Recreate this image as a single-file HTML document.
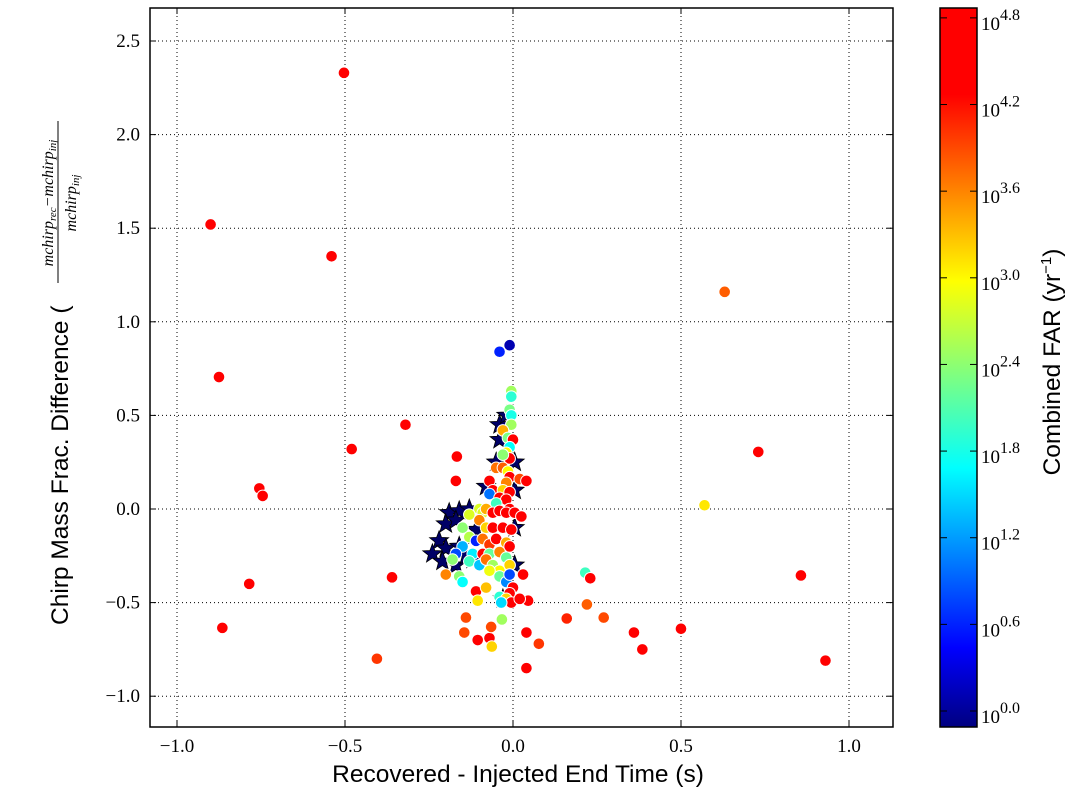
<!DOCTYPE html>
<html><head><meta charset="utf-8">
<style>
html,body{margin:0;padding:0;background:#fff;}
svg{display:block;}
.tick{font-family:"Liberation Serif",serif;font-size:19px;fill:#000;}
.lab{font-family:"Liberation Sans",sans-serif;font-size:24.5px;fill:#000;}
</style></head>
<body>
<svg id="chart" width="1075" height="792" viewBox="0 0 1075 792" xmlns="http://www.w3.org/2000/svg">
<defs>
<linearGradient id="jet" x1="0" y1="1" x2="0" y2="0">
<stop offset="0" stop-color="#000080"/>
<stop offset="0.11" stop-color="#0000ff"/>
<stop offset="0.36" stop-color="#00ffff"/>
<stop offset="0.62" stop-color="#ffff00"/>
<stop offset="0.88" stop-color="#ff0000"/>
<stop offset="1" stop-color="#ff0000"/>
</linearGradient>
<clipPath id="plotclip"><rect x="150" y="8" width="743" height="719"/></clipPath>
</defs>
<g id="grid"></g>
<g id="stars" clip-path="url(#plotclip)"></g>
<g id="pts" clip-path="url(#plotclip)"></g>
<rect x="150" y="8" width="743" height="719" fill="none" stroke="#000" stroke-width="1.5"/>
<g id="ticks"></g>
<text class="lab" x="518" y="782" text-anchor="middle">Recovered - Injected End Time (s)</text>
<g transform="translate(68,625) rotate(-90)">
<text class="lab" x="0" y="0" text-anchor="start">Chirp Mass Frac. Difference (</text>
<text x="422" y="-15" text-anchor="middle" font-family="Liberation Serif,serif" font-style="italic" font-size="16">mchirp<tspan font-size="11" dy="3">rec</tspan><tspan dy="-3">−mchirp</tspan><tspan font-size="11" dy="3">inj</tspan></text>
<line x1="342" y1="-10" x2="504" y2="-10" stroke="#000" stroke-width="1"/>
<text x="422" y="8" text-anchor="middle" font-family="Liberation Serif,serif" font-style="italic" font-size="16">mchirp<tspan font-size="11" dy="3">inj</tspan></text>
</g>
<rect x="940" y="8" width="37" height="719" fill="url(#jet)" stroke="#000" stroke-width="1.5"/>
<g id="cbticks"></g>
<text class="lab" transform="translate(1060,362) rotate(-90)" text-anchor="middle">Combined FAR (yr<tspan font-size="15" dy="-9">−1</tspan><tspan dy="9">)</tspan></text>
</svg>
<script>
const xTicks=[-1.0,-0.5,0.0,0.5,1.0];
const yTicks=[-1.0,-0.5,0.0,0.5,1.0,1.5,2.0,2.5];
const cbTicks=[0.0,0.6,1.2,1.8,2.4,3.0,3.6,4.2,4.8];
const foundX=[-0.503,-0.90,-0.54,-0.875,0.63,-0.32,-0.48,0.73,-0.755,-0.745,0.57,-0.17,-0.785,-0.36,-0.865,-0.405,0.857,0.93,0.50,0.36,0.385,0.16,0.27,0.22,0.215,0.23,0.045,0.04,0.04,0.077,-0.14,-0.145,-0.105,-0.07,-0.063,-0.065,-0.11,-0.08,-0.105,-0.033,-0.16,-0.167,-0.04,-0.01,
-0.005,-0.005,-0.01,-0.005,-0.005,-0.03,-0.015,0.0,-0.01,-0.02,-0.01,-0.03,-0.05,-0.03,-0.015,-0.01,-0.07,-0.02,0.02,0.04,-0.06,-0.03,-0.07,-0.01,-0.04,-0.02,-0.05,-0.1,-0.09,-0.08,-0.06,-0.04,-0.01,-0.02,0.005,0.025,-0.13,-0.15,-0.1,-0.08,-0.06,-0.03,-0.005,-0.13,-0.11,-0.09,-0.07,-0.05,-0.02,-0.01,-0.15,-0.17,-0.12,-0.09,-0.07,-0.04,-0.02,-0.18,-0.13,-0.1,-0.08,-0.06,-0.04,-0.01,-0.2,-0.07,-0.04,-0.02,-0.01,-0.15,0.0,0.03,-0.01,-0.04,-0.02,-0.005,-0.035,0.02];
const foundY=[2.33,1.52,1.35,0.705,1.16,0.45,0.32,0.305,0.11,0.07,0.02,0.15,-0.40,-0.365,-0.635,-0.80,-0.355,-0.81,-0.64,-0.66,-0.75,-0.585,-0.58,-0.51,-0.34,-0.37,-0.49,-0.66,-0.85,-0.72,-0.58,-0.66,-0.70,-0.69,-0.735,-0.63,-0.44,-0.42,-0.49,-0.59,-0.36,0.28,0.84,0.875,
0.63,0.6,0.53,0.5,0.45,0.42,0.38,0.37,0.33,0.3,0.27,0.29,0.22,0.22,0.2,0.17,0.15,0.14,0.16,0.15,0.1,0.1,0.08,0.09,0.06,0.05,0.03,0.0,-0.02,0.0,-0.02,-0.01,0.0,-0.02,-0.02,-0.04,-0.03,-0.1,-0.06,-0.1,-0.1,-0.1,-0.11,-0.15,-0.17,-0.16,-0.19,-0.16,-0.18,-0.2,-0.2,-0.24,-0.24,-0.24,-0.24,-0.23,-0.26,-0.27,-0.28,-0.3,-0.27,-0.3,-0.33,-0.3,-0.35,-0.33,-0.36,-0.39,-0.35,-0.39,-0.42,-0.35,-0.45,-0.47,-0.48,-0.5,-0.5,-0.48];
const foundLogFAR=[4.7,4.6,4.6,4.6,3.8,4.6,4.6,4.6,4.7,4.6,3.1,4.6,4.6,4.6,4.6,4.0,4.6,4.6,4.6,4.5,4.6,4.1,3.9,3.8,2.0,4.6,4.6,4.6,4.6,4.0,3.9,3.9,4.5,4.5,3.2,3.9,4.5,3.3,3.1,2.5,2.4,4.6,0.6,0.1,
2.5,1.9,2.3,1.8,2.5,3.4,2.3,4.6,1.7,3.0,4.6,2.4,3.7,3.8,3.0,4.3,4.6,3.6,3.9,4.6,4.6,3.2,1.0,4.5,4.6,4.6,2.0,2.8,2.8,3.4,4.5,4.6,4.6,4.7,4.6,4.6,2.8,2.4,3.6,3.2,4.5,4.5,4.6,2.6,0.6,3.7,4.0,4.6,3.4,4.6,1.3,0.8,1.6,4.6,2.2,3.6,2.2,2.4,2.0,1.4,3.7,2.5,3.0,3.2,3.6,2.9,2.2,1.1,0.8,1.7,4.7,4.6,4.5,1.9,3.2,4.6,1.5,4.6];
const missedX=[-0.19,-0.16,-0.13,-0.2,-0.17,-0.22,-0.24,-0.2,-0.16,-0.17,-0.21,-0.12,-0.14,-0.08,-0.05,-0.04,-0.04,-0.02,0.005,0.005,0.005,-0.03,0.005,-0.11];
const missedY=[-0.02,-0.01,0.0,-0.08,-0.06,-0.17,-0.24,-0.21,-0.2,-0.3,-0.28,-0.27,-0.25,0.12,0.25,0.37,0.45,0.5,0.1,-0.1,-0.3,-0.48,0.25,-0.11];

const X=v=>513+v*336, Y=v=>509-v*187.2, CB=v=>711-v*144.4;
const ns="http://www.w3.org/2000/svg";
function mk(tag,attrs,parent){const e=document.createElementNS(ns,tag);for(const k in attrs)e.setAttribute(k,attrs[k]);parent.appendChild(e);return e;}
function lerp(a,b,t){return a+(b-a)*t;}
function jet(v){
  const t=Math.max(0,Math.min(1,(v-(-0.11))/(4.87+0.11)));
  const st=[[0,[0,0,128]],[0.11,[0,0,255]],[0.36,[0,255,255]],[0.62,[255,255,0]],[0.88,[255,0,0]],[1,[255,0,0]]];
  for(let i=1;i<st.length;i++){if(t<=st[i][0]){const u=(t-st[i-1][0])/(st[i][0]-st[i-1][0]);const a=st[i-1][1],b=st[i][1];return `rgb(${Math.round(lerp(a[0],b[0],u))},${Math.round(lerp(a[1],b[1],u))},${Math.round(lerp(a[2],b[2],u))})`;}}
  return "rgb(255,0,0)";
}
const grid=document.getElementById('grid'),ticks=document.getElementById('ticks');
xTicks.forEach(v=>{
  const gl=mk('line',{x1:X(v),x2:X(v),y1:8,y2:727,stroke:'#000','stroke-width':1,'stroke-dasharray':'1,3'},grid);
  
  
  mk('line',{x1:X(v),x2:X(v),y1:727,y2:721,stroke:'#000'},ticks);
  mk('line',{x1:X(v),x2:X(v),y1:8,y2:14,stroke:'#000'},ticks);
  const t=mk('text',{x:X(v),y:752,'text-anchor':'middle',class:'tick'},ticks);
  t.textContent=(v<0?'−':'')+Math.abs(v).toFixed(1);
  
  
});
yTicks.forEach(v=>{
  const gl=mk('line',{x1:150,x2:893,y1:Y(v),y2:Y(v),stroke:'#000','stroke-width':1,'stroke-dasharray':'1,3'},grid);
  
  
  mk('line',{x1:150,x2:156,y1:Y(v),y2:Y(v),stroke:'#000'},ticks);
  mk('line',{x1:893,x2:887,y1:Y(v),y2:Y(v),stroke:'#000'},ticks);
  const t=mk('text',{x:140,y:Y(v)+6,'text-anchor':'end',class:'tick'},ticks);
  t.textContent=(v<0?'−':'')+Math.abs(v).toFixed(1);
  
  
});
const stars=document.getElementById('stars');
function starPath(cx,cy,R){const r=R*0.42;let d='';for(let i=0;i<10;i++){const a=-Math.PI/2+i*Math.PI/5;const rr=i%2?r:R;d+=(i?'L':'M')+(cx+rr*Math.cos(a)).toFixed(1)+','+(cy+rr*Math.sin(a)).toFixed(1);}return d+'Z';}
missedX.forEach((v,i)=>{
  const s=mk('path',{d:starPath(X(v),Y(missedY[i]),10),fill:'#000066',stroke:'#000','stroke-width':0.8},stars);
  
  
});
const pts=document.getElementById('pts');
foundX.forEach((v,i)=>{
  const c=mk('circle',{cx:X(v),cy:Y(foundY[i]),r:5.8,fill:jet(foundLogFAR[i]),stroke:'#fff','stroke-width':1},pts);
  
  
});
const cbt=document.getElementById('cbticks');
cbTicks.forEach(v=>{
  mk('line',{x1:977,x2:970,y1:CB(v),y2:CB(v),stroke:'#000'},cbt);
  mk('line',{x1:940,x2:947,y1:CB(v),y2:CB(v),stroke:'#000'},cbt);
  const t=mk('text',{x:981,y:CB(v)+12,class:'tick','font-size':'24'},cbt);
  t.textContent='10';
  const s=mk('tspan',{'font-size':'16',dy:-10},t);
  s.textContent=v.toFixed(1);
  
  
});
</script>
</body></html>
